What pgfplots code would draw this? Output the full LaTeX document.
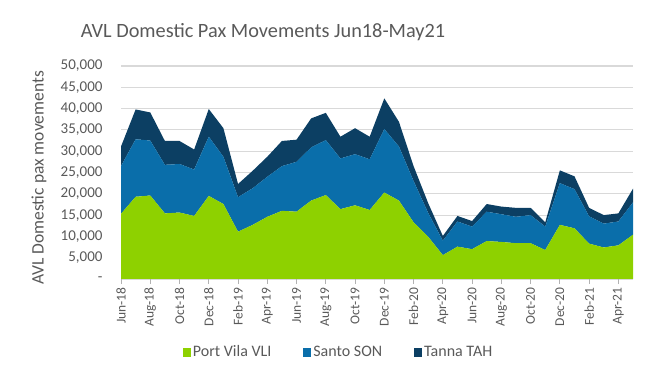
\documentclass[border=0pt]{standalone}
\usepackage{pgfplots}
\pgfplotsset{compat=1.18}
\usepackage{pgfplotstable}
\usepackage{fontspec}
\setmainfont{Carlito}
\definecolor{pvgreen}{HTML}{8ED100}
\definecolor{sonblue}{HTML}{0A6EAA}
\definecolor{tahnavy}{HTML}{0C3F63}
\definecolor{txtgray}{HTML}{595959}
\definecolor{gridgray}{HTML}{D9D9D9}
\pgfplotstableread{
i pv son tah
0 15300 11200 4600
1 19300 13500 7000
2 19600 12900 6600
3 15400 11400 5600
4 15600 11400 5400
5 14800 10900 4700
6 19500 13900 6500
7 17600 11100 6700
8 11100 8100 3100
9 12700 8600 4100
10 14600 9400 4700
11 16000 10500 5900
12 15800 11700 5200
13 18400 12500 6800
14 19700 12900 6400
15 16400 11900 5100
16 17300 12000 6100
17 16200 11900 5300
18 20300 14900 7200
19 18400 12700 5800
20 13300 9700 3500
21 9900 5600 2300
22 5600 3400 1100
23 7600 5900 1300
24 7000 5300 1300
25 8900 6900 1800
26 8700 6500 1800
27 8400 6200 2100
28 8400 6600 1700
29 6800 5500 1000
30 12700 9800 3000
31 11900 9200 3000
32 8300 6400 2000
33 7400 5600 2000
34 7900 5600 1900
35 10400 7600 3200
}\data
\begin{document}
\begin{tikzpicture}
\path[use as bounding box] (0,0) rectangle (650bp,377bp);
\node[text=txtgray, font=\fontsize{20.3bp}{24bp}\selectfont] at (263bp,345bp) {AVL Domestic Pax Movements Jun18-May21};
\node[text=txtgray, rotate=90, font=\fontsize{17.5bp}{21bp}\selectfont] at (39bp,199bp) {AVL Domestic pax movements};
\begin{axis}[
  at={(121bp,98bp)}, anchor=south west,
  width=512bp, height=213bp, scale only axis,
  xmin=0, xmax=35, ymin=0, ymax=50000,
  stack plots=y, area legend,
  scaled y ticks=false,
  axis line style={draw=none},
  ymajorgrids, grid style={gridgray, line width=1.1bp},
  ytick={0,5000,...,50000},
  yticklabels={{-\hspace{0.6em}},{5,000},{10,000},{15,000},{20,000},{25,000},{30,000},{35,000},{40,000},{45,000},{50,000}},
  ytick style={draw=none},
  yticklabel style={text=txtgray, font=\fontsize{15bp}{17bp}\selectfont, xshift=-10bp},
  xtick={0,2,...,34},
  xticklabels={Jun-18,Aug-18,Oct-18,Dec-18,Feb-19,Apr-19,Jun-19,Aug-19,Oct-19,Dec-19,Feb-20,Apr-20,Jun-20,Aug-20,Oct-20,Dec-20,Feb-21,Apr-21},
  xtick pos=bottom, tick align=outside,
  xtick style={draw=gray!60, line width=0.8bp},
  major tick length=5bp,
  xticklabel style={text=txtgray, rotate=90, anchor=east, font=\fontsize{13.5bp}{16bp}\selectfont},
  /pgf/number format/assume math mode=true,
  legend columns=3,
  legend style={draw=none, fill=none, at={(0.425,-0.343)}, anchor=center,
    font=\fontsize{16bp}{18bp}\selectfont, text=txtgray,
    /tikz/every even column/.append style={column sep=30bp}},
  legend image code/.code={\fill[#1] (0bp,-4.5bp) rectangle (8bp,4.5bp);},
]
\addplot[fill=pvgreen, draw=none] table[x=i, y=pv] {\data} \closedcycle;
\addplot[fill=sonblue, draw=none] table[x=i, y=son] {\data} \closedcycle;
\addplot[fill=tahnavy, draw=none] table[x=i, y=tah] {\data} \closedcycle;
\legend{Port Vila VLI, Santo SON, Tanna TAH}
\end{axis}
\end{tikzpicture}
\end{document}
